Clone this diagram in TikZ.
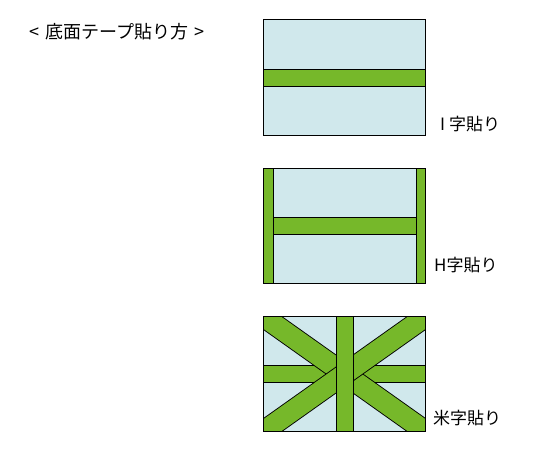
\documentclass[tikz,border=0pt]{standalone}
\usepackage{fontspec}
\newfontfamily\jpfont{Noto Sans CJK JP}
\definecolor{sheet}{HTML}{D0E8EC}
\definecolor{tapegreen}{HTML}{76B82A}
\begin{document}
\begin{tikzpicture}[x=1pt, y=-1pt,
  board/.style={draw=black, line width=0.9pt, fill=sheet},
  tape/.style={draw=black, line width=0.9pt, fill=tapegreen},
  lbl/.style={inner sep=0pt, anchor=west, font=\jpfont\fontsize{17}{17}\selectfont}]
\useasboundingbox (0,0) rectangle (540,450);
\node[lbl, font=\jpfont\fontsize{18}{18}\selectfont] (title) at (29,32){<\hspace{6pt}底面テープ貼り方\hspace{6pt}>};
% I
\draw[board] (263.5,19.5) rectangle (425.5,135);
\draw[tape] (263.5,69.5) rectangle (425.5,86);
\node[lbl] (lblI) at (440,124){I\hspace{4pt}字貼り};
% H
\draw[board] (263.5,168.5) rectangle (425.5,283.5);
\draw[tape] (263.5,168.5) rectangle (273,283.5);
\draw[tape] (416.5,168.5) rectangle (425.5,283.5);
\draw[tape] (273,217.5) rectangle (416.5,234);
\node[lbl] (lblH) at (434,265.5){H字貼り};
% kome
\coordinate (knw) at (263.5,316.5);
\coordinate (kne) at (425.5,316.5);
\coordinate (ksw) at (263.5,431.5);
\coordinate (kse) at (425.5,431.5);
\draw[board] (knw) rectangle (kse);
\begin{scope}
\clip (knw) rectangle (kse);
\draw[tape] (263.5,365.5) rectangle (425.5,382.5);
\draw[line width=22pt, black] (231,293.5) -- (458,454.5);
\draw[line width=20.2pt, tapegreen] (231,293.5) -- (458,454.5);
\draw[line width=22pt, black] (231,454.5) -- (458,293.5);
\draw[line width=20.2pt, tapegreen] (231,454.5) -- (458,293.5);
\draw[tape] (336.5,310) rectangle (353.5,440);
\end{scope}
\draw[line width=0.9pt] (knw) rectangle (kse);
\node[lbl] (lblK) at (433,418){米字貼り};
\end{tikzpicture}
\end{document}
